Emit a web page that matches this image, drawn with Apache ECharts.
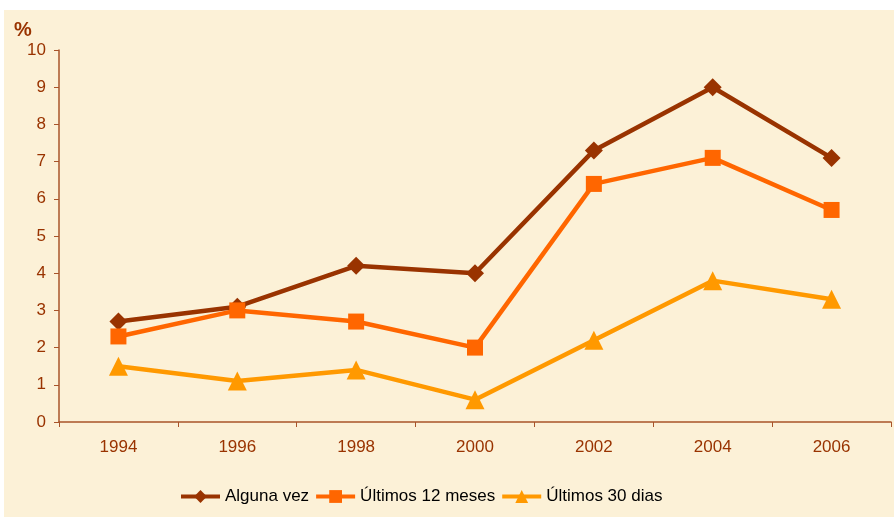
<!DOCTYPE html>
<html>
<head>
<meta charset="utf-8">
<script src="https://cdn.jsdelivr.net/npm/echarts@6/dist/echarts.min.js"></script>
<style>
    html, body { margin: 0; padding: 0; background: #fff; }
    #bg { position: absolute; left: 4px; top: 10px; width: 890px; height: 507px; background: #fcf1d7; }
    #chart { position: absolute; left: 0; top: 0; width: 894px; height: 517px; }
</style>
</head>
<body>
<div id="bg"></div>
<div id="chart"></div>
<script>
    var years = ['1994', '1996', '1998', '2000', '2002', '2004', '2006'];
    var algunaVez = [2.7, 3.1, 4.2, 4.0, 7.3, 9.0, 7.1];
    var ultimos12 = [2.3, 3.0, 2.7, 2.0, 6.4, 7.1, 5.7];
    var ultimos30 = [1.5, 1.1, 1.4, 0.6, 2.2, 3.8, 3.3];

    var myChart = echarts.init(document.getElementById('chart'));

    var axisColor = '#a8542a';
    var labelColor = '#993300';

    option = {
        animation: false,
        title: {
            text: '%',
            left: 9,
            top: 15,
            textStyle: { color: labelColor, fontSize: 20, fontWeight: 'bold', fontFamily: 'Liberation Sans' }
        },
        legend: {
            left: 179,
            top: 488,
            padding: 0,
            itemWidth: 39,
            itemHeight: 16,
            itemGap: 5,
            lineStyle: { width: 4 },
            textStyle: { color: '#000', fontSize: 17, fontFamily: 'Liberation Sans' },
            data: ['Alguna vez', 'Últimos 12 meses', 'Últimos 30 dias']
        },
        grid: {
            left: 59,
            right: 3,
            top: 50,
            bottom: 95
        },
        xAxis: {
            type: 'category',
            boundaryGap: true,
            data: years,
            axisLine: { lineStyle: { color: axisColor, width: 1.5 } },
            axisTick: { show: true, length: 5, lineStyle: { color: axisColor } },
            axisLabel: { color: labelColor, fontSize: 17, margin: 17, fontFamily: 'Liberation Sans' }
        },
        yAxis: {
            type: 'value',
            min: 0,
            max: 10,
            interval: 1,
            axisLine: { show: true, lineStyle: { color: axisColor, width: 1.5 } },
            axisTick: { show: true, length: 5, lineStyle: { color: axisColor } },
            splitLine: { show: false },
            axisLabel: { color: labelColor, fontSize: 17, margin: 13, fontFamily: 'Liberation Sans' }
        },
        series: [
            {
                name: 'Alguna vez',
                type: 'line',
                data: algunaVez,
                symbol: 'diamond',
                symbolSize: 18,
                color: '#993300',
                lineStyle: { width: 4.5 }
            },
            {
                name: 'Últimos 12 meses',
                type: 'line',
                data: ultimos12,
                symbol: 'rect',
                symbolSize: 16,
                color: '#ff6600',
                lineStyle: { width: 4.5 }
            },
            {
                name: 'Últimos 30 dias',
                type: 'line',
                data: ultimos30,
                symbol: 'triangle',
                symbolSize: 19,
                color: '#ff9900',
                lineStyle: { width: 4.5 }
            }
        ]
    };
    myChart.setOption(option);
</script>
</body>
</html>
